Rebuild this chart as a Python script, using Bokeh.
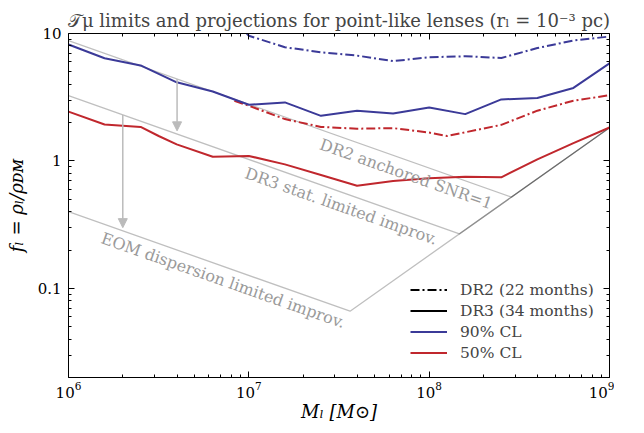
import numpy as np
from bokeh.plotting import figure
from bokeh.models import (Range1d, LogAxis, FixedTicker, CustomJSTickFormatter, Legend,
                          LegendItem, Label, Arrow, NormalHead, ColumnDataSource)
from bokeh.embed import file_html
from bokeh.resources import INLINE

# ---------------- data ----------------
# DR3, 90% CL (blue solid)
logm_dr3_90 = [6.0, 6.2, 6.4, 6.6, 6.8, 7.0, 7.2, 7.4, 7.6, 7.8, 8.0, 8.2, 8.4, 8.6, 8.8, 9.0]
f_dr3_90 = [8.19, 6.39, 5.62, 4.14, 3.51, 2.76, 2.88, 2.26, 2.48, 2.36, 2.63, 2.33, 3.04, 3.12, 3.74, 5.84]
# DR3, 50% CL (red solid)
logm_dr3_50 = [6.0, 6.2, 6.4, 6.5, 6.6, 6.8, 7.0, 7.2, 7.4, 7.6, 7.8, 8.0, 8.2, 8.4, 8.6, 8.8, 9.0]
f_dr3_50 = [2.44, 1.93, 1.85, 1.57, 1.35, 1.08, 1.095, 0.94, 0.776, 0.639, 0.696, 0.731, 0.752, 0.744, 1.03, 1.38, 1.83]
# DR2, 90% CL (blue dash-dot)
logm_dr2_90 = [6.8, 7.0, 7.2, 7.4, 7.6, 7.8, 8.0, 8.2, 8.4, 8.6, 8.8, 9.0]
f_dr2_90 = [20.0, 9.6, 7.80, 7.12, 6.71, 6.07, 6.51, 6.63, 6.42, 7.69, 8.81, 9.47]
# DR2, 50% CL (red dash-dot)
logm_dr2_50 = [6.92, 7.0, 7.2, 7.4, 7.6, 7.8, 8.0, 8.1, 8.4, 8.6, 8.8, 9.0]
f_dr2_50 = [2.97, 2.71, 2.13, 1.85, 1.79, 1.81, 1.67, 1.57, 1.92, 2.48, 2.97, 3.28]

# projection envelopes: f = A (M/1e6)^(-1/2), cut by the rising edge f = C (M/1e9)
env_labels = ["DR2 anchored SNR=1", "DR3 stat. limited improv.", "EOM dispersion limited improv."]
env_amp_1e6 = [8.8, 3.25, 0.40]
env_rise_1e9 = 1.82
env_label_logm = [7.89, 7.53, 6.875]
arrow_mass = [4e6, 2e6]           # arrows DR2 -> DR3, DR3 -> EOM

x_tick_major = [1e6, 1e7, 1e8, 1e9]
y_tick_major = [0.1, 1, 10]
y_tick_labels = ["0.1", "1", "10"]

legend_labels = ["DR2 (22 months)", "DR3 (34 months)", "90% CL", "50% CL"]

title_text = "𝒯μ limits and projections for point-like lenses (rₗ = 10⁻³ pc)"
x_label = "Mₗ [M⊙]"
y_label = "fₗ = ρₗ/ρᴅᴍ"

# ---------------- styling ----------------
BLUE = "#3b3a98"
RED = "#c0272d"
GREY = "#bbbbbb"
FONT = "DejaVu Serif"
DASHDOT = "9 3 2 3"

p = figure(frame_width=541, frame_height=344, x_axis_type="log", y_axis_type="log",
           x_range=Range1d(1e6, 1e9), y_range=Range1d(0.02, 10),
           output_backend="svg", toolbar_location=None,
           min_border_left=68, min_border_right=5, min_border_top=33, min_border_bottom=5)
p.grid.visible = False
p.outline_line_color = None

p.title.text = title_text
p.title.text_font = FONT
p.title.text_font_size = "18px"
p.title.text_font_style = "normal"
p.title.align = "center"
p.title.standoff = 5

def minors(lo_exp, hi_exp):
    out = []
    for e in range(lo_exp, hi_exp):
        for k in range(2, 10):
            out.append(k * 10.0 ** e)
    return out

xticker = FixedTicker(ticks=x_tick_major, minor_ticks=minors(6, 9))
yticker = FixedTicker(ticks=y_tick_major, minor_ticks=[v for v in minors(-2, 1) if v >= 0.02])

yfmt = CustomJSTickFormatter(args=dict(vals=y_tick_major, labs=y_tick_labels), code="""
for (let i = 0; i < vals.length; i++) {
  if (Math.abs(Math.log10(tick) - Math.log10(vals[i])) < 1e-6) return labs[i];
}
return '';
""")
blank = CustomJSTickFormatter(code="return '';")

def style_axis(ax, labels=True):
    ax.axis_line_color = "black"
    ax.axis_line_width = 1
    ax.major_tick_in = 6
    ax.major_tick_out = 0
    ax.minor_tick_in = 3
    ax.minor_tick_out = 0
    ax.major_tick_line_color = "black"
    ax.minor_tick_line_color = "black"
    ax.major_label_text_font = FONT
    ax.major_label_text_font_size = "15px"
    ax.major_label_text_color = "black"
    ax.axis_label_text_font = FONT
    ax.axis_label_text_font_size = "18px"
    ax.axis_label_text_font_style = "italic"
    ax.axis_label_text_color = "black"
    if not labels:
        ax.formatter = blank
        ax.major_label_text_font_size = "2px"
        ax.major_label_standoff = 0

p.xaxis.ticker = xticker
p.yaxis.ticker = yticker
p.yaxis.formatter = yfmt
style_axis(p.xaxis[0])
style_axis(p.yaxis[0])
p.xaxis.axis_label = x_label
p.yaxis.axis_label = y_label
p.xaxis.major_label_standoff = 4
p.yaxis.major_label_standoff = 7
p.xaxis.axis_label_standoff = 0
p.yaxis.axis_label_standoff = 8

top = LogAxis(ticker=xticker)
style_axis(top, labels=False)
p.add_layout(top, "above")
right = LogAxis(ticker=yticker)
style_axis(right, labels=False)
p.add_layout(right, "right")

# ---------------- envelopes ----------------
def env_f(A, m):
    return A * (m / 1e6) ** -0.5

for A, lab, lm in zip(env_amp_1e6, env_labels, env_label_logm):
    m_int = (A * 1e12 / env_rise_1e9) ** (2.0 / 3.0)
    f_int = env_rise_1e9 * m_int / 1e9
    p.line([1e6, m_int, 1e9], [A, f_int, env_rise_1e9],
           line_color="black", line_alpha=0.25, line_width=1.3)
    m_lab = 10 ** lm
    p.add_layout(Label(x=m_lab, y=env_f(A, m_lab), text=lab, angle=-0.3385,
                       text_align="center", text_baseline="top", y_offset=-4,
                       text_font=FONT, text_font_size="16px", text_color="#9a9a9a"))

# arrows
arrow_pairs = [(0, 1), (1, 2)]
for m, (i, j) in zip(arrow_mass, arrow_pairs):
    p.add_layout(Arrow(end=NormalHead(size=9, fill_color=GREY, line_color=GREY),
                       x_start=m, y_start=env_f(env_amp_1e6[i], m),
                       x_end=m, y_end=env_f(env_amp_1e6[j], m) * 1.06,
                       line_color=GREY, line_width=1.5))

# ---------------- limit curves ----------------
def M(lm):
    return [10 ** v for v in lm]

p.line(M(logm_dr2_90), f_dr2_90, line_color=BLUE, line_width=2, line_dash=DASHDOT)
p.line(M(logm_dr2_50), f_dr2_50, line_color=RED, line_width=2, line_dash=DASHDOT)
p.line(M(logm_dr3_90), f_dr3_90, line_color=BLUE, line_width=2)
p.line(M(logm_dr3_50), f_dr3_50, line_color=RED, line_width=2)

# legend proxies (drawn off-range so they are never visible in the plot)
def proxy(**kw):
    return p.line("x", "y", source=ColumnDataSource(data=dict(x=[1e3, 2e3], y=[1e3, 2e3])), **kw)
r1 = proxy(line_color="black", line_width=2, line_dash=DASHDOT)
r2 = proxy(line_color="black", line_width=2)
r3 = proxy(line_color=BLUE, line_width=2)
r4 = proxy(line_color=RED, line_width=2)

legend = Legend(items=[LegendItem(label=l, renderers=[r]) for l, r in zip(legend_labels, [r1, r2, r3, r4])],
                location=(342, 14), border_line_alpha=0, background_fill_alpha=0,
                padding=0, margin=0, spacing=0, glyph_width=37, glyph_height=21,
                label_height=21, label_standoff=13,
                label_text_font=FONT, label_text_font_size="15.5px")
p.add_layout(legend)

open("out.html", "w").write(file_html(p, INLINE))
